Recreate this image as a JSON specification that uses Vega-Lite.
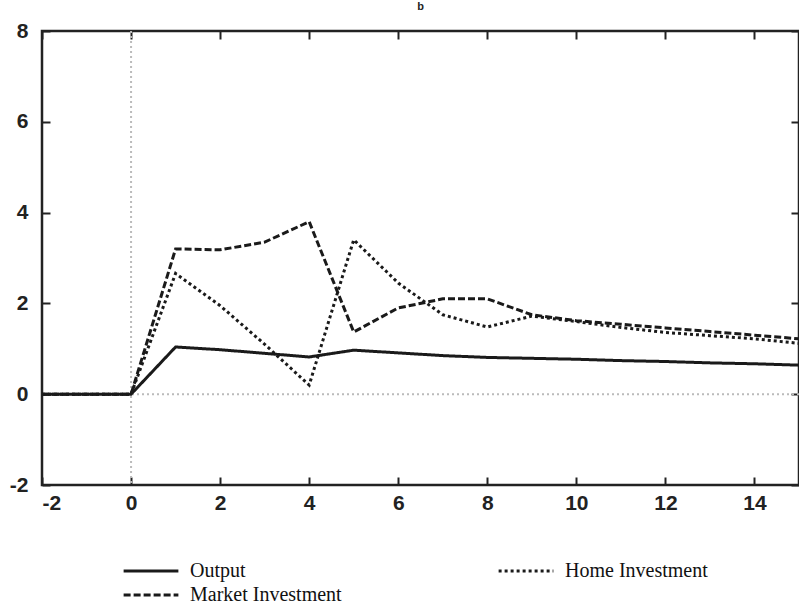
{
  "$schema": "https://vega.github.io/schema/vega-lite/v6.json",
  "width": 757,
  "height": 454,
  "padding": {"left": 42, "top": 31, "right": 0, "bottom": 125},
  "autosize": {"type": "none"},
  "background": "white",
  "config": {
    "view": {"stroke": "#222", "strokeWidth": 2.5},
    "axis": {"grid": false, "domain": false}
  },
  "title": {"text": "b", "fontSize": 11, "font": "Liberation Sans", "fontWeight": "bold", "color": "#222", "offset": 8},
  "datasets": {
    "series": [
      {"t": -2, "series": "Output", "value": 0},
      {"t": -1, "series": "Output", "value": 0},
      {"t": 0, "series": "Output", "value": 0},
      {"t": 1, "series": "Output", "value": 1.04},
      {"t": 2, "series": "Output", "value": 0.98},
      {"t": 3, "series": "Output", "value": 0.9},
      {"t": 4, "series": "Output", "value": 0.82},
      {"t": 5, "series": "Output", "value": 0.97},
      {"t": 6, "series": "Output", "value": 0.91},
      {"t": 7, "series": "Output", "value": 0.85},
      {"t": 8, "series": "Output", "value": 0.81},
      {"t": 9, "series": "Output", "value": 0.79},
      {"t": 10, "series": "Output", "value": 0.77},
      {"t": 11, "series": "Output", "value": 0.74},
      {"t": 12, "series": "Output", "value": 0.72},
      {"t": 13, "series": "Output", "value": 0.69},
      {"t": 14, "series": "Output", "value": 0.67},
      {"t": 15, "series": "Output", "value": 0.64},
      {"t": -2, "series": "Market Investment", "value": 0},
      {"t": -1, "series": "Market Investment", "value": 0},
      {"t": 0, "series": "Market Investment", "value": 0},
      {"t": 1, "series": "Market Investment", "value": 3.2},
      {"t": 2, "series": "Market Investment", "value": 3.18},
      {"t": 3, "series": "Market Investment", "value": 3.35},
      {"t": 4, "series": "Market Investment", "value": 3.8},
      {"t": 5, "series": "Market Investment", "value": 1.37},
      {"t": 6, "series": "Market Investment", "value": 1.9},
      {"t": 7, "series": "Market Investment", "value": 2.1},
      {"t": 8, "series": "Market Investment", "value": 2.1},
      {"t": 9, "series": "Market Investment", "value": 1.75},
      {"t": 10, "series": "Market Investment", "value": 1.62},
      {"t": 11, "series": "Market Investment", "value": 1.54},
      {"t": 12, "series": "Market Investment", "value": 1.46},
      {"t": 13, "series": "Market Investment", "value": 1.38},
      {"t": 14, "series": "Market Investment", "value": 1.3},
      {"t": 15, "series": "Market Investment", "value": 1.22},
      {"t": -2, "series": "Home Investment", "value": 0},
      {"t": -1, "series": "Home Investment", "value": 0},
      {"t": 0, "series": "Home Investment", "value": 0},
      {"t": 1, "series": "Home Investment", "value": 2.66},
      {"t": 2, "series": "Home Investment", "value": 1.95},
      {"t": 3, "series": "Home Investment", "value": 1.1},
      {"t": 4, "series": "Home Investment", "value": 0.2},
      {"t": 5, "series": "Home Investment", "value": 3.4},
      {"t": 6, "series": "Home Investment", "value": 2.45},
      {"t": 7, "series": "Home Investment", "value": 1.75},
      {"t": 8, "series": "Home Investment", "value": 1.48},
      {"t": 9, "series": "Home Investment", "value": 1.72},
      {"t": 10, "series": "Home Investment", "value": 1.6},
      {"t": 11, "series": "Home Investment", "value": 1.47},
      {"t": 12, "series": "Home Investment", "value": 1.36},
      {"t": 13, "series": "Home Investment", "value": 1.29},
      {"t": 14, "series": "Home Investment", "value": 1.22},
      {"t": 15, "series": "Home Investment", "value": 1.12}
    ],
    "refs": [{"zero": 0}]
  },
  "resolve": {"axis": {"x": "independent", "y": "independent"}},
  "layer": [
    {
      "data": {"name": "refs"},
      "mark": {"type": "rule", "color": "#bbb", "strokeWidth": 2, "strokeDash": [2, 3]},
      "encoding": {"y": {"field": "zero", "type": "quantitative", "scale": {"domain": [-2, 8], "nice": false},
        "axis": {"orient": "right", "labels": false, "title": null, "values": [-2, 0, 2, 4, 6, 8], "tickSize": -8, "tickWidth": 2, "tickColor": "#222"}}}
    },
    {
      "data": {"name": "refs"},
      "mark": {"type": "rule", "color": "#bbb", "strokeWidth": 2, "strokeDash": [2, 3]},
      "encoding": {"x": {"field": "zero", "type": "quantitative", "scale": {"domain": [-2, 15], "nice": false},
        "axis": {"orient": "top", "labels": false, "title": null, "values": [-2, 0, 2, 4, 6, 8, 10, 12, 14], "tickSize": -8, "tickWidth": 2, "tickColor": "#222"}}}
    },
    {
      "data": {"name": "series"},
      "mark": {"type": "line", "color": "#1a1a1a", "strokeWidth": 3},
      "encoding": {
        "x": {
          "field": "t", "type": "quantitative",
          "scale": {"domain": [-2, 15], "nice": false, "zero": false},
          "axis": {"orient": "bottom", "title": null, "values": [-2, 0, 2, 4, 6, 8, 10, 12, 14], "labelExpr": "replace(datum.label, '−', '-')", "tickSize": -8, "tickWidth": 2, "tickColor": "#222", "labelPadding": 15, "labelFont": "Liberation Sans", "labelFontWeight": "bold", "labelFontSize": 21, "labelColor": "#222"}
        },
        "y": {
          "field": "value", "type": "quantitative",
          "scale": {"domain": [-2, 8], "nice": false},
          "axis": {"orient": "left", "title": null, "values": [-2, 0, 2, 4, 6, 8], "labelExpr": "replace(datum.label, '−', '-')", "tickSize": -8, "tickWidth": 2, "tickColor": "#222", "labelPadding": 22, "labelFont": "Liberation Sans", "labelFontWeight": "bold", "labelFontSize": 21, "labelColor": "#222"}
        },
        "strokeDash": {
          "field": "series", "type": "nominal",
          "scale": {"domain": ["Output", "Home Investment", "Market Investment"], "range": [[1, 0], [3, 3], [7, 3]]},
          "legend": {
            "title": null, "orient": "none", "legendX": 80, "legendY": 529,
            "direction": "horizontal", "columns": 2, "columnPadding": 155, "rowPadding": 2, "clipHeight": 22,
            "symbolType": "stroke", "symbolSize": 3000, "symbolStrokeWidth": 3, "symbolStrokeColor": "#1a1a1a",
            "labelFont": "Liberation Serif", "labelFontSize": 20, "labelColor": "#111", "labelOffset": 10
          }
        },
        "detail": {"field": "series"}
      }
    }
  ]
}
